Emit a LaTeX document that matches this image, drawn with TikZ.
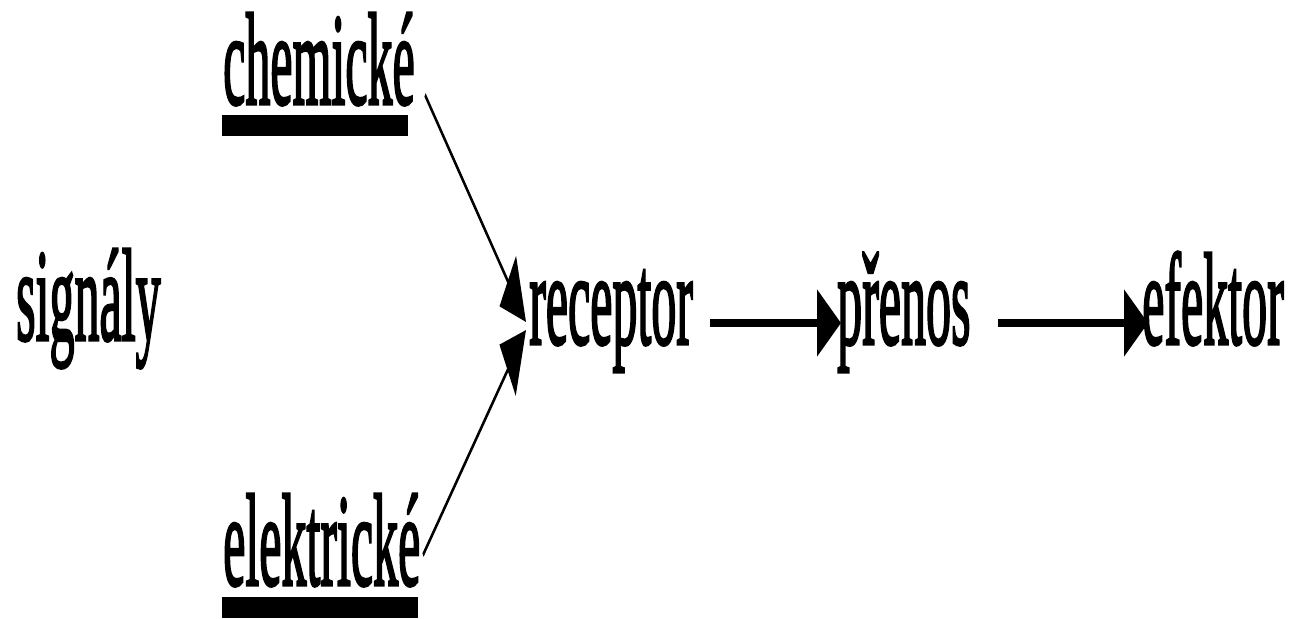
\documentclass[tikz,border=0pt]{standalone}
\usepackage{fontspec}
\setmainfont{Liberation Serif}[UprightFeatures={FakeBold=2.5}]
\usetikzlibrary{arrows.meta}
\begin{document}
\begin{tikzpicture}[x=1pt,y=1pt,
  lbl/.style={anchor=base west, inner sep=0pt, font=\fontsize{50}{60}\selectfont},
  thinarrow/.style={line width=1.8pt, -{Triangle[length=24pt,width=25pt]}},
  thickarrow/.style={line width=2.7pt, -{Triangle[length=24pt,width=25pt]}},
  bar/.style={fill=black}]
\useasboundingbox (0,0) rectangle (1297,618);
\fill[white] (0,0) rectangle (1297,618);
\begin{scope}[transform canvas={yscale=2.62}]
\begin{scope}[y={(0,-0.381679pt)}, shift={(0,235.877pt)}]
  \node[lbl] (sig) at (16,340) {signály};
  \node[lbl] (chem) at (223,104) {chemické};
  \node[lbl] (elek) at (223,585) {elektrické};
  \node[lbl] (rec) at (529,344) {receptor};
  \node[lbl] (pren) at (837,344) {přenos};
  \node[lbl] (efek) at (1142,344) {efektor};
  \fill[bar] (222,115) rectangle (408,136);
  \fill[bar] (222,597) rectangle (418,618);
  \coordinate (c1) at (425,95);
  \coordinate (e1) at (423,555);
  \coordinate (t1) at (526,322);
  \coordinate (t2) at (526,330);
  \coordinate (r1) at (710,323);
  \coordinate (p0) at (841,323);
  \coordinate (p1) at (998,323);
  \coordinate (f0) at (1148,323);
  \draw[thinarrow] (c1) -- (t1);
  \draw[thinarrow] (e1) -- (t2);
  \draw[thickarrow] (r1) -- (p0);
  \draw[thickarrow] (p1) -- (f0);
\end{scope}
\end{scope}
\end{tikzpicture}
\end{document}
